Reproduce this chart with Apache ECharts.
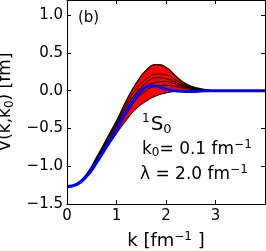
<!DOCTYPE html>
<html><head><meta charset="utf-8">
<script src="https://cdn.jsdelivr.net/npm/echarts@6/dist/echarts.min.js"></script>
<style>html,body{margin:0;padding:0;background:#fff}#c{width:266px;height:251px}</style>
</head><body><div id="c"></div>
<script>
var kGrid = [0,0.2,0.4,0.6,0.8,1.0,1.2,1.4,1.6,1.8,2.0,2.2,2.4,2.6,2.8,3.0,4.0];
var curve1 = [-1.28,-1.23,-1.10,-0.88,-0.64,-0.40,-0.13,0.10,0.27,0.345,0.31,0.19,0.09,0.04,0.015,0.0,0.0];
var curve2 = [-1.28,-1.23,-1.10,-0.89,-0.66,-0.43,-0.18,0.02,0.15,0.22,0.21,0.14,0.07,0.03,0.01,0.0,0.0];
var curve3 = [-1.28,-1.23,-1.11,-0.90,-0.68,-0.46,-0.22,-0.03,0.10,0.17,0.16,0.11,0.055,0.025,0.01,0.0,0.0];
var curve4 = [-1.28,-1.24,-1.11,-0.91,-0.70,-0.49,-0.26,-0.07,0.05,0.11,0.12,0.085,0.045,0.02,0.005,0.0,0.0];
var curve5 = [-1.28,-1.24,-1.12,-0.93,-0.73,-0.52,-0.31,-0.12,0.0,0.06,0.07,0.055,0.03,0.01,0.0,0.0,0.0];
var curve6 = [-1.28,-1.24,-1.13,-0.95,-0.76,-0.57,-0.39,-0.24,-0.14,-0.07,-0.03,-0.01,0.0,0.0,0.0,0.0,0.0];
var kBlue = [0,0.2,0.4,0.6,0.8,1.0,1.2,1.4,1.6,1.7,1.8,2.0,2.2,2.4,2.6,2.8,3.0,4.0];
var vBlue = [-1.27,-1.24,-1.13,-0.95,-0.74,-0.52,-0.28,-0.08,0.05,0.065,0.06,0.02,0.0,-0.01,-0.01,0.0,0.0,0.0];
var xTicks = [0,1,2,3];
var yTicks = [-1.5,-1.0,-0.5,0.0,0.5,1.0];

function pairs(xs, ys){ return xs.map(function(x,i){return [x, ys[i]];}); }
var FONT = 'DejaVu Sans';
function fmt(v){ return (v<0?'\u2212':'') + Math.abs(v).toFixed(1); }

var blackCurves = [curve1,curve2,curve3,curve4,curve5,curve6];
var series = [
  {type:'line', data:pairs(kGrid, curve1), smooth:true, symbol:'none', lineStyle:{width:0,opacity:0}, areaStyle:{color:'#ff0000',opacity:1,origin:'start'}, silent:true, z:1},
  {type:'line', data:pairs(kGrid, curve6), smooth:true, symbol:'none', lineStyle:{width:0,opacity:0}, areaStyle:{color:'#ffffff',opacity:1,origin:'start'}, silent:true, z:2}
];
blackCurves.forEach(function(c, i){
  series.push({type:'line', data:pairs(kGrid, c), smooth:true, symbol:'none', lineStyle:{color:'#000',width:(i===0?1.3:1)}, z:3});
});
series.push({type:'line', data:pairs(kBlue, vBlue), smooth:true, symbol:'none', lineStyle:{color:'#0000ff',width:3}, z:5});

var axisBase = {z:10, splitLine:{show:false}};
var aLine = {show:true, onZero:false, lineStyle:{color:'#000',width:1}};
var chart = echarts.init(document.getElementById('c'), null, {renderer:'canvas'});
chart.setOption({
  animation:false,
  backgroundColor:'#fff',
  grid:{left:67, right:1, top:0, bottom:47, containLabel:false, outerBoundsMode:'none'},
  xAxis:[
    Object.assign({type:'value', min:0, max:4, position:'bottom', axisLine:aLine,
      name:'{a|k [fm}{s|\u22121}{a| ]}', nameLocation:'middle', nameGap:27,
      nameTextStyle:{rich:{a:{fontFamily:FONT,fontSize:18,color:'#000'}, s:{fontFamily:FONT,fontSize:12,color:'#000',verticalAlign:'top',padding:[0,0,9,0]}}},
      axisTick:{inside:true,length:4,customValues:xTicks,lineStyle:{color:'#000'}},
      axisLabel:{customValues:xTicks, fontFamily:FONT, fontSize:15, color:'#000', margin:5, formatter:function(v){return String(v);}}
    }, axisBase),
    Object.assign({type:'value', min:0, max:4, position:'top', axisLine:aLine,
      axisTick:{inside:true,length:4,customValues:xTicks,lineStyle:{color:'#000'}},
      axisLabel:{show:false}
    }, axisBase)
  ],
  yAxis:[
    Object.assign({type:'value', min:-1.5, max:1.2, position:'left', axisLine:aLine,
      name:'{a|V(k,k}{b|0}{a|) [fm]}', nameLocation:'middle', nameGap:42, nameRotate:90,
      nameTextStyle:{rich:{a:{fontFamily:FONT,fontSize:17,color:'#000'}, b:{fontFamily:FONT,fontSize:12,color:'#000',padding:[8,0,0,0]}}},
      axisTick:{inside:true,length:4,customValues:yTicks,lineStyle:{color:'#000'}},
      axisLabel:{customValues:yTicks, fontFamily:FONT, fontSize:15, color:'#000', margin:4, formatter:fmt}
    }, axisBase),
    Object.assign({type:'value', min:-1.5, max:1.2, position:'right', axisLine:aLine,
      axisTick:{inside:true,length:4,customValues:yTicks,lineStyle:{color:'#000'}},
      axisLabel:{show:false}
    }, axisBase)
  ],
  series: series,
  graphic:[
    {type:'text', z:100, left:78, top:11, style:{text:'(b)', font:'15px "DejaVu Sans"', fill:'#000'}},
    {type:'text', z:100, left:142, top:113, style:{text:'{s|1}{a|S}{b|0}', rich:{s:{fontFamily:FONT,fontSize:12,verticalAlign:'top',padding:[0,1,10,0]}, a:{fontFamily:FONT,fontSize:20}, b:{fontFamily:FONT,fontSize:13,padding:[10,0,0,0]}}, fill:'#000'}},
    {type:'text', z:100, left:142, top:139, style:{text:'{a|k}{b|0}{a|= 0.1 fm}{s|\u22121}', rich:{a:{fontFamily:FONT,fontSize:17}, b:{fontFamily:FONT,fontSize:12,padding:[7,0,0,0]}, s:{fontFamily:FONT,fontSize:12,padding:[0,0,9,0]}}, fill:'#000'}},
    {type:'text', z:100, left:140, top:164, style:{text:'{a|\u03bb = 2.0 fm}{s|\u22121}', rich:{a:{fontFamily:FONT,fontSize:17}, s:{fontFamily:FONT,fontSize:12,padding:[0,0,9,0]}}, fill:'#000'}}
  ]
});
</script></body></html>
